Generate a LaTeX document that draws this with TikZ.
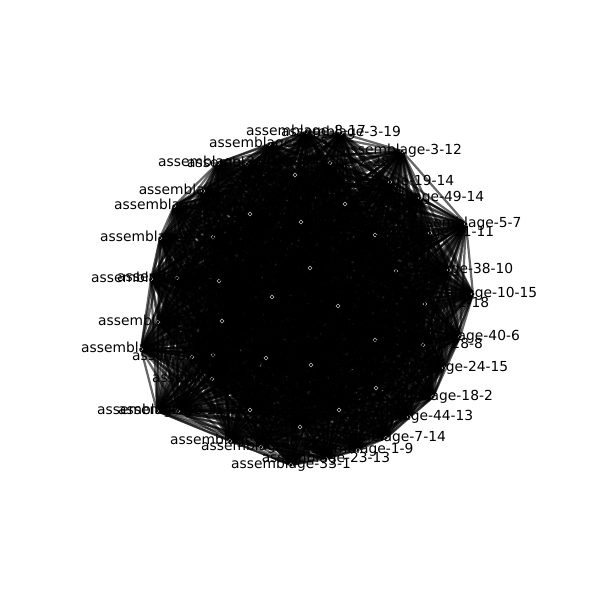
\documentclass[tikz,border=0pt]{standalone}
\usepackage{fontspec}
\setmainfont{DejaVu Sans}
\usepackage{tikz}
\usetikzlibrary{calc}

\tikzset{
    arco/.style={black, opacity=0.6, line width=1.6pt},
    punto/.style={circle, draw=gray!50, line width=0.3pt, inner sep=0pt, minimum size=1mm},
    etich/.style={font=\fontsize{10}{12}\selectfont, inner sep=0pt, text=black}
}

\begin{document}
\begin{tikzpicture}[x=0.254mm, y=-0.254mm]
    \useasboundingbox (0,0) rectangle (600,600);

    % Posizioni dei nodi
    \foreach \px/\py [count=\i] in {306/132, 341/133, 402/151, 330/163, 390/182, 420/198,
        466/224, 430/233, 449/270, 473/294, 425/304, 460/337, 423/345, 444/368,
        433/397, 409/417, 386/438, 358/450, 326/459, 291/465, 261/447, 230/441,
        157/411, 178/411, 212/379, 192/357, 141/349, 158/322, 151/279, 177/278,
        160/238, 174/206, 203/191, 218/163, 247/164, 269/144,
        250/214, 301/222, 375/235, 345/204, 310/268, 396/271, 272/297, 338/306,
        222/321, 266/358, 311/365, 375/340, 213/237, 219/281, 213/355, 376/388,
        339/410, 300/427, 250/410, 295/175} {
        \coordinate (n\i) at (\px,\py);
    }

    % Archi (grafo completo)
    \foreach \i in {1,...,55} {
        \pgfmathtruncatemacro{\k}{\i+1}
        \foreach \j in {\k,...,56} {
            \draw[arco] (n\i) -- (n\j);
        }
    }

    % Nodi
    \foreach \i in {1,...,56} {
        \node[punto] (p\i) at (n\i) {};
    }

    % Etichette
    \foreach \i/\t in {1/assemblage-8-17, 2/assemblage-3-19, 3/assemblage-3-12,
        4/assemblage-2-28, 5/assemblage-19-14, 6/assemblage-49-14, 7/assemblage-5-7,
        8/assemblage-21-11, 9/assemblage-38-10, 10/assemblage-10-15, 11/assemblage-12-18,
        12/assemblage-40-6, 13/assemblage-28-8, 14/assemblage-24-15, 15/assemblage-18-2,
        16/assemblage-44-13, 17/assemblage-7-14, 18/assemblage-1-9, 19/assemblage-23-13,
        20/assemblage-33-1, 21/assemblage-9-16, 22/assemblage-4-12, 23/assemblage-30-3,
        24/assemblage-15-7, 25/assemblage-6-11, 26/assemblage-27-5, 27/assemblage-11-8,
        28/assemblage-36-2, 29/assemblage-2-17, 30/assemblage-14-9, 31/assemblage-20-4,
        32/assemblage-31-6, 33/assemblage-13-10, 34/assemblage-26-1, 35/assemblage-17-3,
        36/assemblage-42-5} {
        \node[etich] (l\i) at (n\i) {\t};
    }
\end{tikzpicture}
\end{document}
